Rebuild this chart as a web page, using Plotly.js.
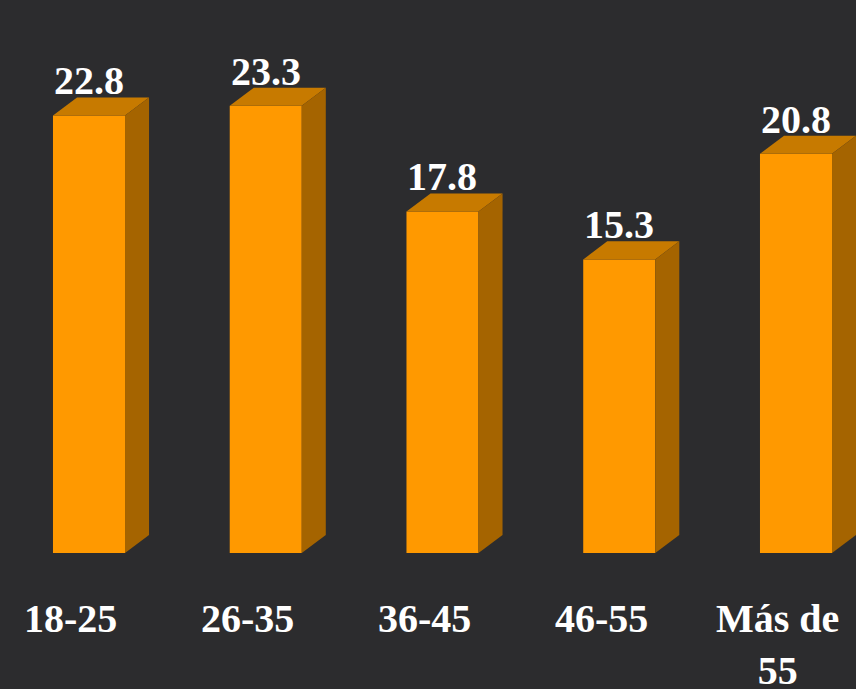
<!DOCTYPE html>
<html>
<head>
<meta charset="utf-8">
<script src="https://cdn.plot.ly/plotly-3.0.1.min.js"></script>
<style>
  html, body { margin: 0; padding: 0; background: #2c2c2e; }
  #fontwarm { position: absolute; left: 0; top: 0; font-family: "Liberation Serif"; font-weight: bold; font-size: 40px; color: #2c2c2e; z-index: -1; }
</style>
</head>
<body>
<div id="fontwarm">Más de 55 18-25 22.8</div>
<div id="chart" style="width:856px;height:689px;position:relative"></div>
<script>
// ---- data ----
const categories = ["18-25", "26-35", "36-45", "46-55", "Más de<br>55"];
const values = [22.8, 23.3, 17.8, 15.3, 20.8];

// ---- styling ----
const frontColor = "#FF9900";
const topColor = "#C77A00";
const sideColor = "#A56400";
const barWidth = 0.4075;   // in x units (category spacing = 1)
const depthX = 0.136;      // in x units
const depthY = 0.94;       // in y units
const serifFamily = "Liberation Serif";

const xs = categories.map((c, i) => i);
const traces = [];

traces.push({
  type: "bar",
  x: xs,
  y: values,
  width: barWidth,
  marker: { color: frontColor, line: { width: 0 } },
  hoverinfo: "skip",
  showlegend: false
});

xs.forEach((x, i) => {
  const v = values[i];
  const l = x - barWidth / 2, r = x + barWidth / 2;
  traces.push({
    type: "scatter", mode: "lines", fill: "toself",
    x: [l, r, r + depthX, l + depthX, l],
    y: [v, v, v + depthY, v + depthY, v],
    fillcolor: topColor, line: { width: 0, color: topColor },
    hoverinfo: "skip", showlegend: false
  });
  traces.push({
    type: "scatter", mode: "lines", fill: "toself",
    x: [r, r + depthX, r + depthX, r, r],
    y: [0, depthY, v + depthY, v, 0],
    fillcolor: sideColor, line: { width: 0, color: sideColor },
    hoverinfo: "skip", showlegend: false
  });
});

function makeAnnotations() {
  const annotations = [];
  xs.forEach((x, i) => {
    annotations.push({
      x: x, y: values[i] + depthY, xref: "x", yref: "y",
      text: "<b>" + values[i].toFixed(1) + "</b>",
      showarrow: false, xanchor: "center", yanchor: "bottom",
      yshift: -8, font: { family: serifFamily, size: 40, color: "#FFFFFF" }
    });
    annotations.push({
      x: x, y: 0, xref: "x", yref: "y",
      text: "<b>" + categories[i] + "</b>",
      showarrow: false, xanchor: "center", yanchor: "top",
      xshift: -18, yshift: -41, align: "center",
      font: { family: serifFamily, size: 40, color: "#FFFFFF" }
    });
  });
  return annotations;
}

function makeLayout() {
  return {
    width: 856, height: 689,
    margin: { l: 0, r: 0, t: 0, b: 0 },
    font: { family: serifFamily, color: "#FFFFFF" },
    paper_bgcolor: "#2c2c2e",
    plot_bgcolor: "#2c2c2e",
    xaxis: { range: [-0.5035, 4.3395], visible: false, fixedrange: true },
    yaxis: { range: [-7.087, 28.817], visible: false, fixedrange: true },
    showlegend: false,
    annotations: makeAnnotations()
  };
}

Plotly.newPlot("chart", traces, makeLayout(), { displayModeBar: false });
if (document.fonts && document.fonts.load) {
  document.fonts.load('bold 40px "Liberation Serif"').then(() => {
    Plotly.react("chart", traces, makeLayout(), { displayModeBar: false });
  });
}
</script>
</body>
</html>
